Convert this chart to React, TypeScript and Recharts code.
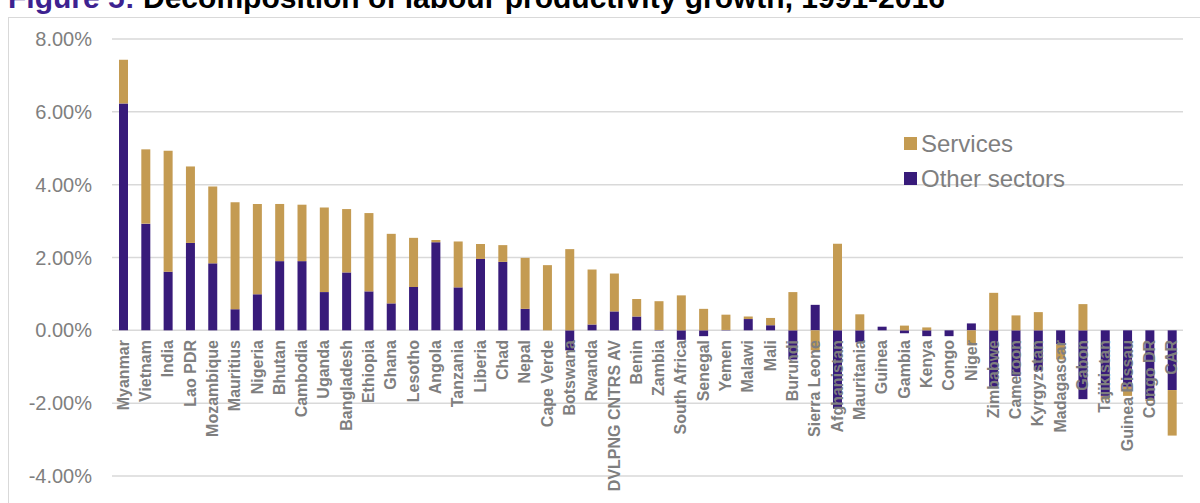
import { Bar, BarChart, CartesianGrid, XAxis, YAxis } from "recharts"

const countries = [
  "Myanmar", "Vietnam", "India", "Lao PDR", "Mozambique", "Mauritius", "Nigeria", "Bhutan",
  "Cambodia", "Uganda", "Bangladesh", "Ethiopia", "Ghana", "Lesotho", "Angola", "Tanzania",
  "Liberia", "Chad", "Nepal", "Cape Verde", "Botswana", "Rwanda", "DVLPNG CNTRS AV", "Benin",
  "Zambia", "South Africa", "Senegal", "Yemen", "Malawi", "Mali", "Burundi", "Sierra Leone",
  "Afghanistan", "Mauritania", "Guinea", "Gambia", "Kenya", "Congo", "Niger", "Zimbabwe",
  "Cameroon", "Kyrgyzstan", "Madagascar", "Gabon", "Tajikistan", "Guinea Bissau", "Congo DR", "CAR",
]

// growth in %
const otherSectors = [
  6.23, 2.93, 1.61, 2.4, 1.84, 0.58, 0.99, 1.9,
  1.9, 1.05, 1.59, 1.07, 0.74, 1.19, 2.42, 1.18,
  1.96, 1.88, 0.59, 0, -0.55, 0.16, 0.52, 0.38,
  0.01, -0.26, -0.16, 0.01, 0.31, 0.14, -0.8, 0.7,
  -2.15, -0.33, 0.1, -0.08, -0.16, -0.16, 0.19, -1.55,
  -1.25, -1.1, -0.38, -1.89, -1.8, -1.55, -1.89, -1.64,
]

const services = [
  1.2, 2.04, 3.32, 2.1, 2.11, 2.94, 2.48, 1.57,
  1.55, 2.32, 1.74, 2.15, 1.91, 1.35, 0.06, 1.26,
  0.41, 0.46, 1.4, 1.79, 2.23, 1.51, 1.04, 0.48,
  0.79, 0.96, 0.59, 0.42, 0.07, 0.2, 1.05, -0.55,
  2.38, 0.44, 0, 0.13, 0.08, 0, -0.41, 1.03,
  0.41, 0.5, -0.42, 0.72, -0.1, -0.25, -0.05, -1.25,
]

const yTicks = [-4, -2, 0, 2, 4, 6, 8]

const data = countries.map((name, i) => ({
  name,
  other: otherSectors[i],
  services: services[i],
}))

const PURPLE = "#381b7a"
const TAN = "#c49b52"
const GREY = "#7f7f7f"
const FONT = "'Liberation Sans', Arial, sans-serif"

const CHART_H = 503
const MARGIN = { top: 39, right: 17, bottom: 26, left: 0 }
const Y_MIN = yTicks[0]
const Y_MAX = yTicks[yTicks.length - 1]
// distance from the bottom of the plot up to the zero line
const plotH = CHART_H - MARGIN.top - MARGIN.bottom
const zeroOffset = (plotH * (0 - Y_MIN)) / (Y_MAX - Y_MIN)

function CountryTick(props: any) {
  const { x, y, payload } = props
  const ty = y - zeroOffset + 10
  return (
    <text
      x={x}
      y={ty}
      transform={`rotate(-90, ${x}, ${ty})`}
      textAnchor="end"
      dominantBaseline="central"
      fill={GREY}
      fontSize={16}
      fontWeight="bold"
      fontFamily={FONT}
    >
      {payload.value}
    </text>
  )
}

const legendItems = [
  { label: "Services", color: TAN },
  { label: "Other sectors", color: PURPLE },
]

export default function App() {
  return (
    <div style={{ position: "absolute", left: 0, top: 0, width: 1200, height: 503, overflow: "hidden", background: "#fff" }}>
      <div
        style={{
          position: "absolute",
          left: 8,
          top: -17,
          fontFamily: FONT,
          fontWeight: "bold",
          fontSize: 30,
          lineHeight: 1,
          whiteSpace: "nowrap",
        }}
      >
        <span style={{ color: "#3d2290" }}>Figure 5: </span>
        <span style={{ color: "#000" }}>Decomposition of labour productivity growth, 1991-2016</span>
      </div>
      <div
        style={{
          position: "absolute",
          left: 8,
          top: 17,
          width: 1300,
          height: 600,
          border: "1.5px solid #d9d9d9",
        }}
      />
      <div style={{ position: "absolute", left: 0, top: 0 }}>
        <BarChart width={1200} height={CHART_H} data={data} margin={MARGIN} stackOffset="sign" barSize={9}>
          <CartesianGrid vertical={false} stroke="#d9d9d9" strokeWidth={1.5} />
          <Bar dataKey="other" name="Other sectors" stackId="a" fill={PURPLE} isAnimationActive={false} />
          <Bar dataKey="services" name="Services" stackId="a" fill={TAN} isAnimationActive={false} />
          <XAxis
            dataKey="name"
            interval={0}
            height={1}
            tickLine={false}
            axisLine={false}
            tickSize={0}
            tickMargin={0}
            tick={<CountryTick />}
          />
          <YAxis
            width={112}
            domain={[Y_MIN, Y_MAX]}
            ticks={yTicks}
            tickFormatter={(v) => `${Number(v).toFixed(2)}%`}
            tickLine={false}
            axisLine={false}
            tickSize={0}
            tickMargin={20}
            tick={{ fill: GREY, fontSize: 20, fontFamily: FONT }}
          />
        </BarChart>
      </div>
      <div style={{ position: "absolute", left: 904, top: 126 }}>
        {legendItems.map((it) => (
          <div key={it.label} style={{ display: "flex", alignItems: "center", height: 35 }}>
            <span style={{ width: 13, height: 13, background: it.color, marginRight: 4 }} />
            <span style={{ fontSize: 24, color: GREY, fontFamily: FONT }}>{it.label}</span>
          </div>
        ))}
      </div>
    </div>
  )
}
